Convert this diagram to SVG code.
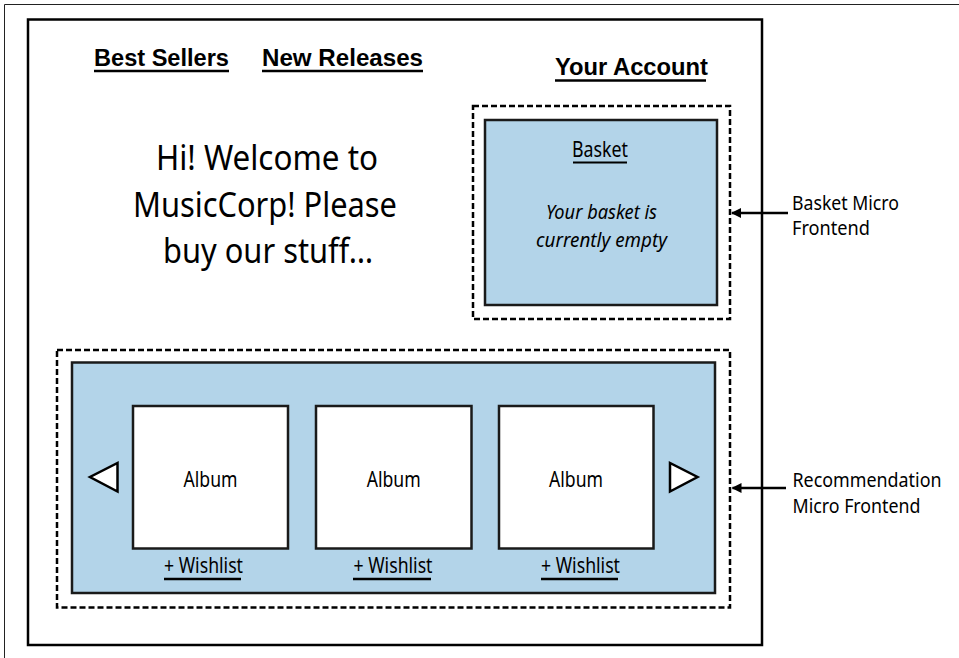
<svg xmlns="http://www.w3.org/2000/svg" width="959" height="658" viewBox="0 0 959 658">
<defs>
<style>
.frame{fill:#fff;stroke:#000;stroke-width:2.5}
.dash{fill:none;stroke:#000;stroke-width:2.5;stroke-dasharray:6 3}
.blue{fill:#b3d4e9;stroke:#1a1a1a;stroke-width:2.5}
.album{fill:#fff;stroke:#1a1a1a;stroke-width:2.5}
.ul{stroke:#000;stroke-width:2.5}
.nav{font-family:"Liberation Sans",Arial,sans-serif;font-weight:bold;font-size:23px;fill:#000}
.t{font-family:"Noto Sans","Open Sans",sans-serif;fill:#000}
.lbl{font-family:"Noto Sans","Open Sans",sans-serif;fill:#000;font-size:20px}
.tri{fill:#fff;stroke:#000;stroke-width:2.5;stroke-linejoin:miter}
.conn{stroke:#000;stroke-width:2.5;fill:none}
</style>
<marker id="ah" markerWidth="10" markerHeight="10" refX="9" refY="5" orient="auto" markerUnits="userSpaceOnUse">
<path d="M0,0 L10,5 L0,10 Z" fill="#000"/>
</marker>
</defs>
<rect width="959" height="658" fill="#fff"/>
<path d="M4.5,658 V4.5 H959" fill="none" stroke="#222" stroke-width="1"/>
<g id="page">
<rect class="frame" x="28" y="19.5" width="734" height="625.5"/>
</g>
<g id="nav-best-sellers">
<text class="nav" x="94" y="65.5" textLength="135" lengthAdjust="spacingAndGlyphs">Best Sellers</text>
<line class="ul" x1="94" y1="71" x2="229" y2="71"/>
</g>
<g id="nav-new-releases">
<text class="nav" x="262" y="65.5" textLength="161" lengthAdjust="spacingAndGlyphs">New Releases</text>
<line class="ul" x1="262" y1="71" x2="423" y2="71"/>
</g>
<g id="nav-your-account">
<text class="nav" x="555" y="74.5" textLength="153" lengthAdjust="spacingAndGlyphs">Your Account</text>
<line class="ul" x1="555" y1="80.5" x2="706" y2="80.5"/>
</g>
<g id="welcome">
<text class="t" font-size="35" text-anchor="middle" x="267" y="170" textLength="222" lengthAdjust="spacingAndGlyphs">Hi! Welcome to</text>
<text class="t" font-size="35" text-anchor="middle" x="265" y="217" textLength="264" lengthAdjust="spacingAndGlyphs">MusicCorp! Please</text>
<text class="t" font-size="35" text-anchor="middle" x="268" y="263" textLength="210" lengthAdjust="spacingAndGlyphs">buy our stuff…</text>
</g>
<g id="basket-micro-frontend">
<rect class="dash" x="473" y="106" width="257" height="213"/>
<rect class="blue" x="485" y="120" width="232" height="185"/>
<text class="t" font-size="22" text-anchor="middle" x="600" y="157" textLength="56" lengthAdjust="spacingAndGlyphs">Basket</text>
<line x1="573" y1="162.5" x2="627" y2="162.5" stroke="#000" stroke-width="2"/>
<text class="t" font-size="20" font-style="italic" text-anchor="middle" x="601.5" y="218.5" textLength="111" lengthAdjust="spacingAndGlyphs">Your basket is</text>
<text class="t" font-size="20" font-style="italic" text-anchor="middle" x="601.5" y="247" textLength="131" lengthAdjust="spacingAndGlyphs">currently empty</text>
</g>
<g id="recommendation-micro-frontend">
<rect class="dash" x="57" y="350" width="673" height="257.5"/>
<rect class="blue" x="72" y="362.5" width="643" height="230.5"/>
<polygon class="tri" points="117.5,463 117.5,491.5 90,477"/>
<polygon class="tri" points="670,463 670,491.5 697.5,477"/>
</g>
<g id="album-1">
<rect class="album" x="133" y="406" width="155" height="142.5"/>
<text class="t" font-size="22" text-anchor="middle" x="210.5" y="487" textLength="54" lengthAdjust="spacingAndGlyphs">Album</text>
<text class="t" font-size="21" text-anchor="middle" x="203.5" y="573" textLength="79" lengthAdjust="spacingAndGlyphs">+ Wishlist</text>
<line class="ul" x1="164" y1="579" x2="241" y2="579"/>
</g>
<g id="album-2">
<rect class="album" x="316" y="406" width="155.5" height="142.5"/>
<text class="t" font-size="22" text-anchor="middle" x="393.7" y="487" textLength="54" lengthAdjust="spacingAndGlyphs">Album</text>
<text class="t" font-size="21" text-anchor="middle" x="393" y="573" textLength="79" lengthAdjust="spacingAndGlyphs">+ Wishlist</text>
<line class="ul" x1="353" y1="579" x2="431" y2="579"/>
</g>
<g id="album-3">
<rect class="album" x="499" y="406" width="154.5" height="142.5"/>
<text class="t" font-size="22" text-anchor="middle" x="576" y="487" textLength="54" lengthAdjust="spacingAndGlyphs">Album</text>
<text class="t" font-size="21" text-anchor="middle" x="580.5" y="573" textLength="79" lengthAdjust="spacingAndGlyphs">+ Wishlist</text>
<line class="ul" x1="541" y1="579" x2="618" y2="579"/>
</g>
<g id="label-basket">
<text class="lbl" x="792" y="210" textLength="107" lengthAdjust="spacingAndGlyphs">Basket Micro</text>
<text class="lbl" x="792" y="235" textLength="78" lengthAdjust="spacingAndGlyphs">Frontend</text>
</g>
<g id="label-recommendation">
<text class="lbl" x="792.5" y="487" textLength="149" lengthAdjust="spacingAndGlyphs">Recommendation</text>
<text class="lbl" x="792.5" y="513" textLength="128" lengthAdjust="spacingAndGlyphs">Micro Frontend</text>
</g>
<g id="connectors">
<line class="conn" x1="788" y1="213" x2="732" y2="213" marker-end="url(#ah)"/>
<line class="conn" x1="786" y1="488" x2="732.5" y2="488" marker-end="url(#ah)"/>
</g>
</svg>
